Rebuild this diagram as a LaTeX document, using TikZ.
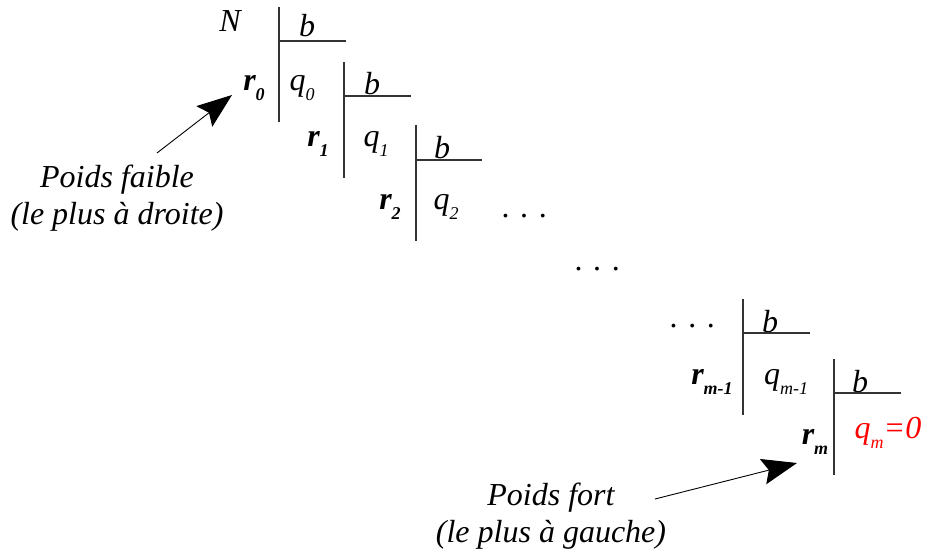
\documentclass[tikz,border=0pt]{standalone}
\usepackage{fontspec}
\setmainfont{Liberation Serif}
\usetikzlibrary{arrows.meta}
\newcommand{\sbx}[1]{\raisebox{-0.3em}{\fontsize{18}{18}\selectfont\itshape #1}}
\begin{document}
\begin{tikzpicture}[x=1pt,y=-1pt,
  lbl/.style={inner sep=0pt,font=\fontsize{32}{32}\selectfont\itshape},
  rlbl/.style={inner sep=0pt,font=\fontsize{32}{32}\selectfont\bfseries\itshape},
  captxt/.style={inner sep=0pt,align=center,font=\fontsize{32}{36.5}\selectfont\itshape},
  div/.style={line width=1.1pt,black!80},
  bigarrow/.style={line width=0.9pt,-{Stealth[length=35pt,width=26pt,inset=6pt]}}]
\useasboundingbox (0,0) rectangle (925,553);
% division 0
\node[lbl] (N) at (230,21) {N};
\node[lbl] (b0) at (307,26) {b};
\node[rlbl] (r0) at (254,88) {r\sbx{0}};
\node[lbl] (q0) at (302,88) {q\sbx{0}};
\draw[div] (279,7) -- (279,122);
\draw[div] (279,41) -- (346,41);
% division 1
\node[lbl] (b1) at (372,84) {b};
\node[rlbl] (r1) at (318,144) {r\sbx{1}};
\node[lbl] (q1) at (376,144) {q\sbx{1}};
\draw[div] (344,62) -- (344,178);
\draw[div] (344,96) -- (411,96);
% division 2
\node[lbl] (b2) at (442,148) {b};
\node[rlbl] (r2) at (390,207) {r\sbx{2}};
\node[lbl] (q2) at (446,207) {q\sbx{2}};
\draw[div] (416,125) -- (416,241);
\draw[div] (416,160) -- (482,160);
% dots
\node[lbl] (d1) at (525,216) {.\,\,.\,\,.};
\node[lbl] (d2) at (598,269) {.\,\,.\,\,.};
\node[lbl] (d3) at (693,326) {.\,\,.\,\,.};
% division m-1
\node[lbl] (bm1) at (770,322) {b};
\node[rlbl] (rm1) at (712,382) {r\sbx{m-1}};
\node[lbl] (qm1) at (786,382) {q\sbx{m-1}};
\draw[div] (743,299) -- (743,415);
\draw[div] (743,333) -- (810,333);
% division m
\node[lbl] (bm) at (860,382) {b};
\node[rlbl] (rm) at (815,442) {r\sbx{m}};
\node[lbl,red] (qm) at (888,433) {q\sbx{m}=0};
\draw[div] (834,359) -- (834,475);
\draw[div] (834,393) -- (901,393);
% captions
\node[captxt] (faible) at (117,198) {Poids faible\\(le plus à droite)};
\node[captxt] (fort) at (551,516) {Poids fort\\(le plus à gauche)};
\coordinate (a1s) at (157,153);
\coordinate (a1e) at (232,95);
\coordinate (a2s) at (655,499);
\coordinate (a2e) at (797,463);
\draw[bigarrow] (a1s) -- (a1e);
\draw[bigarrow] (a2s) -- (a2e);
\end{tikzpicture}
\end{document}
